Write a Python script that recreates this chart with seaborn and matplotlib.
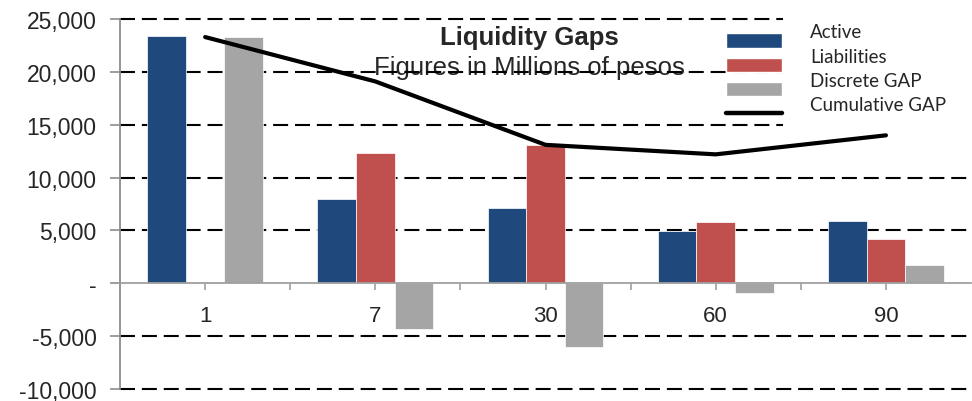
import numpy as np
import pandas as pd
import seaborn as sns
import matplotlib.pyplot as plt
import matplotlib.transforms as mtransforms
from matplotlib.patches import Rectangle
from matplotlib.lines import Line2D
from matplotlib.ticker import FuncFormatter, MultipleLocator

# data (millions of pesos)
days = ['1', '7', '30', '60', '90']
active = [23400, 8000, 7100, 4900, 5900]
liabilities = [150, 12300, 13100, 5800, 4200]
discrete_gap = [23300, -4300, -6000, -900, 1700]
cumulative_gap = [23300, 19100, 13100, 12200, 14000]

series_names = ['Active', 'Liabilities', 'Discrete GAP']
colors = ['#1F497D', '#C0504D', '#A5A5A5']

df = pd.DataFrame({
    'Day': days * 3,
    'Series': np.repeat(series_names, len(days)),
    'Value': active + liabilities + discrete_gap,
})

sns.set_style('white')
plt.rcParams['font.family'] = ['Liberation Sans', 'DejaVu Sans']

fig = plt.figure(figsize=(9.72, 4.02), dpi=100)
ax = fig.add_axes([0.1235, 0.03, 0.8755, 0.92])

sns.barplot(data=df, x='Day', y='Value', hue='Series', order=days,
            hue_order=series_names, palette=colors, width=0.68, gap=0,
            saturation=1, ax=ax, legend=False, zorder=2, linewidth=0.5)
sns.lineplot(x=np.arange(len(days)), y=cumulative_gap, color='black',
             linewidth=3.0, ax=ax, zorder=3, solid_capstyle='round')

ax.set_xlim(-0.5, len(days) - 0.5)
ax.set_ylim(-10000, 25000)
ax.yaxis.set_major_locator(MultipleLocator(5000))
ax.yaxis.set_major_formatter(FuncFormatter(lambda v, p: '-' if v == 0 else f'{v:,.0f}'))

# dashed gridlines except at zero
ax.set_axisbelow(True)
for v in np.arange(-10000, 25001, 5000):
    if v != 0:
        ax.axhline(v, color='black', linewidth=1.5, linestyle=(0, (7.2, 3.3)),
                   zorder=0.5, clip_on=False)

# axes styling
for s in ['top', 'right']:
    ax.spines[s].set_visible(False)
ax.spines['left'].set_color('#8C8C8C')
ax.spines['left'].set_linewidth(1.3)
ax.spines['bottom'].set_position(('data', 0))
ax.spines['bottom'].set_color('#A0A0A0')
ax.spines['bottom'].set_linewidth(1.3)
ax.spines['bottom'].set_zorder(2.5)

ax.set_xticks(np.arange(len(days)))
ax.set_xticklabels(days)
ax.set_xticks(np.arange(len(days) - 1) + 0.5, minor=True)
ax.tick_params(axis='x', which='both', direction='out', length=5, color='#A0A0A0',
               width=1.2, bottom=True, pad=11, labelsize=16)
ax.tick_params(axis='y', direction='out', length=7, color='#8C8C8C', width=1.2,
               left=True, labelsize=16.5, pad=10)
ax.set_xlabel('')
ax.set_ylabel('')

# title inside the plot
ax.text(0.481, 0.951, 'Liquidity Gaps', transform=ax.transAxes, ha='center', va='center',
        fontsize=18.5, fontweight='bold', zorder=4)
ax.text(0.481, 0.87, 'Figures in Millions of pesos', transform=ax.transAxes, ha='center',
        va='center', fontsize=18.5, zorder=0.2)

# white area behind the legend text
ax.add_patch(Rectangle((0.779, 0.705), 0.23, 0.32, transform=ax.transAxes,
                       facecolor='white', edgecolor='none', zorder=0.8, clip_on=False))

handles = [Rectangle((0, 0), 1, 1, facecolor=c) for c in colors]
handles.append(Line2D([0], [0], color='black', linewidth=3.2, solid_capstyle='round'))
leg = ax.legend(handles, series_names + ['Cumulative GAP'], loc='upper left',
                bbox_to_anchor=(0.712, 0.962), frameon=False, borderpad=0,
                borderaxespad=0, handlelength=3.0, handleheight=0.8,
                handletextpad=1.5, labelspacing=0.38,
                prop={'family': 'Lato', 'size': 13.5})
leg.set_zorder(5)
shift = mtransforms.ScaledTranslation(0, 7 / 72, fig.dpi_scale_trans)
for t in leg.get_texts():
    t.set_transform(t.get_transform() + shift)

fig.savefig('out.png', dpi=100)
